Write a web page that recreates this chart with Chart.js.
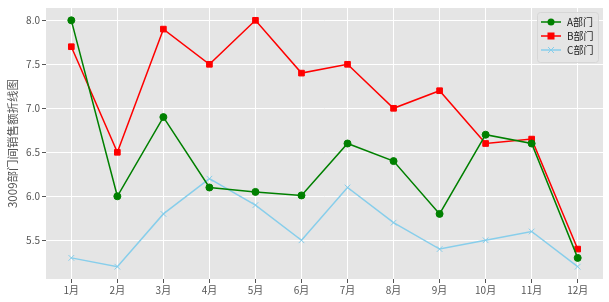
<!DOCTYPE html>
<html><head><meta charset="utf-8">
<script src="https://cdn.jsdelivr.net/npm/chart.js@4/dist/chart.umd.min.js"></script>
<style>html,body{margin:0;padding:0;background:#fff;}#wrap{width:609px;height:302px;}</style>
</head><body><div id="wrap"><canvas id="c" width="609" height="302"></canvas></div>
<script>
const months = ['1月','2月','3月','4月','5月','6月','7月','8月','9月','10月','11月','12月'];
const seriesA = [8.0, 6.0, 6.9, 6.1, 6.05, 6.01, 6.6, 6.4, 5.8, 6.7, 6.6, 5.3];
const seriesB = [7.7, 6.5, 7.9, 7.5, 8.0, 7.4, 7.5, 7.0, 7.2, 6.6, 6.65, 5.4];
const seriesC = [5.3, 5.2, 5.8, 6.2, 5.9, 5.5, 6.1, 5.7, 5.4, 5.5, 5.6, 5.2];
const seriesNames = ['A部门','B部门','C部门'];
const yTicks = [5.5, 6.0, 6.5, 7.0, 7.5, 8.0];
const yTitle = '3009部门间销售额折线图';

const FONT = '"Noto Sans CJK SC", "DejaVu Sans", sans-serif';
const styles = [
  {color:'green', point:'circle', radius:3.5},
  {color:'red', point:'rect', radius:4},
  {color:'skyblue', point:'crossRot', radius:4}
];
function toXY(arr){ return arr.map((v,i)=>({x:i+1,y:v})); }
const all = [seriesA, seriesB, seriesC];

const bgPlugin = {
  id:'bg',
  beforeDraw(chart){
    const {ctx, chartArea:a} = chart;
    ctx.save(); ctx.fillStyle='#E5E5E5';
    ctx.fillRect(a.left, a.top, a.right-a.left, a.bottom-a.top);
    ctx.restore();
  }
};
const legendPlugin = {
  id:'customLegend',
  afterDraw(chart){
    const ctx = chart.ctx;
    const x0=537, y0=12, w=61, h=50;
    ctx.save();
    ctx.fillStyle='rgba(229,229,229,0.8)';
    ctx.strokeStyle='#d6d6d6';
    ctx.lineWidth=1;
    ctx.beginPath();
    if (ctx.roundRect) ctx.roundRect(x0+0.5,y0+0.5,w,h,3); else ctx.rect(x0+0.5,y0+0.5,w,h);
    ctx.fill(); ctx.stroke();
    const ys=[22,36,50];
    styles.forEach((s,i)=>{
      const y=ys[i];
      ctx.strokeStyle=s.color; ctx.lineWidth=1.5;
      ctx.beginPath(); ctx.moveTo(541,y); ctx.lineTo(561,y); ctx.stroke();
      ctx.fillStyle=s.color;
      if(s.point==='circle'){ctx.beginPath();ctx.arc(551,y,3.5,0,Math.PI*2);ctx.fill();}
      else if(s.point==='rect'){ctx.fillRect(547.5,y-3.5,7,7);}
      else {ctx.lineWidth=1;ctx.beginPath();ctx.moveTo(548,y-3);ctx.lineTo(554,y+3);ctx.moveTo(554,y-3);ctx.lineTo(548,y+3);ctx.stroke();}
      ctx.fillStyle='#222'; ctx.font='10px '+FONT; ctx.textBaseline='middle'; ctx.textAlign='left';
      ctx.fillText(seriesNames[i],567,y);
    });
    ctx.restore();
  }
};

new Chart(document.getElementById('c'), {
  type:'line',
  data:{
    datasets: all.map((arr,i)=>({
      label: seriesNames[i],
      data: toXY(arr),
      borderColor: styles[i].color,
      backgroundColor: styles[i].color,
      pointStyle: styles[i].point,
      pointRadius: styles[i].radius,
      pointBorderWidth: 1,
      borderWidth: 1.5,
      tension: 0
    }))
  },
  options:{
    responsive:false, animation:false,
    layout:{padding:{top:8,right:6,left:0,bottom:0}},
    plugins:{legend:{display:false}, tooltip:{enabled:false}},
    scales:{
      x:{
        type:'linear', min:0.45, max:12.55,
        afterBuildTicks(s){ s.ticks = months.map((m,i)=>({value:i+1})); },
        afterFit(s){ s.height = 23; },
        ticks:{ callback:(v)=>months[Math.round(v)-1] || '', color:'#555', font:{size:10, family:FONT}, padding:1, maxRotation:0, autoSkip:false },
        grid:{ color:'#ffffff', lineWidth:1, tickColor:'#555', tickLength:4, drawTicks:true },
        border:{display:false}
      },
      y:{
        min:5.06, max:8.14,
        afterBuildTicks(s){ s.ticks = yTicks.map(v=>({value:v})); },
        afterFit(s){ s.width = 46; },
        ticks:{ callback:(v)=>v.toFixed(1), color:'#555', font:{size:10, family:FONT}, padding:2 },
        grid:{ color:'#ffffff', lineWidth:1, tickColor:'#555', tickLength:4 },
        border:{display:false},
        title:{ display:true, text:yTitle, color:'#555', font:{size:11.5, family:FONT}, padding:{top:6,bottom:2} }
      }
    }
  },
  plugins:[bgPlugin, legendPlugin]
});
</script></body></html>
